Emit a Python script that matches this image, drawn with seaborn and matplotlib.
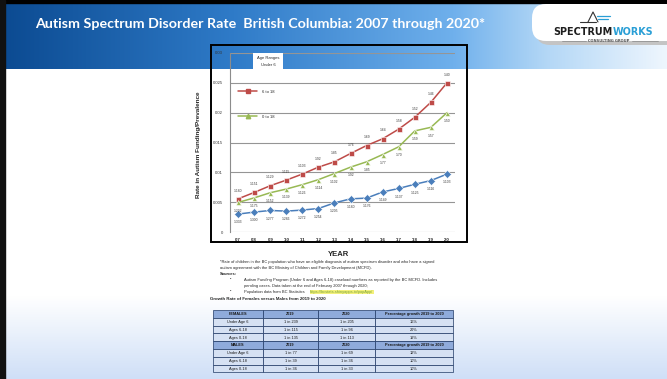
import numpy as np
import pandas as pd
import matplotlib
matplotlib.use("Agg")
import matplotlib.pyplot as plt
from matplotlib.patches import Rectangle, FancyBboxPatch
from matplotlib.colors import LinearSegmentedColormap
from matplotlib.lines import Line2D
import seaborn as sns

# ---- chart data: rates shown as "1 in N" denominators ----
years = ["'07", "'08", "'09", "'10", "'11", "'12", "'13",
         "'14", "'15", "'16", "'17", "'18", "'19", "'20"]
under_6 = [333, 300, 277, 286, 272, 254, 205, 180, 176, 149, 137, 125, 116, 103]
ages_6_18 = [180, 151, 129, 115, 103, 92, 85, 76, 69, 64, 58, 52, 46, 40]
ages_0_18 = [202, 175, 152, 139, 126, 114, 102, 92, 85, 77, 70, 59, 57, 50]
groups = ["Under 6", "6 to 18", "0 to 18"]
y_ticks = [0, 0.005, 0.01, 0.015, 0.02, 0.025, 0.03]
y_tick_labels = ["0", "0.005", "0.01", "0.015", "0.02", "0.025", "0.03"]

# ---- growth table ----
table_header_f = ["FEMALES", "2019", "2020", "Percentage growth 2019 to 2020"]
table_rows_f = [["Under Age 6", "1 in 239", "1 in 205", "16%"],
                ["Ages 6-18", "1 in 115", "1 in 96", "20%"],
                ["Ages 0-18", "1 in 135", "1 in 113", "19%"]]
table_header_m = ["MALES", "2019", "2020", "Percentage growth 2019 to 2020"]
table_rows_m = [["Under Age 6", "1 in 77", "1 in 69", "12%"],
                ["Ages 6-18", "1 in 39", "1 in 36", "10%"],
                ["Ages 0-18", "1 in 36", "1 in 33", "10%"]]

palette = {"Under 6": "#4a7ebb", "6 to 18": "#be4b48", "0 to 18": "#98b954"}
markers = {"Under 6": "D", "6 to 18": "s", "0 to 18": "^"}

records = []
for name, denoms in zip(groups, [under_6, ages_6_18, ages_0_18]):
    for yr, d in zip(years, denoms):
        records.append({"year": yr, "group": name, "rate": 1.0 / d, "label": f"1:{d}"})
df = pd.DataFrame(records)

sns.set_style("white")
plt.rcParams["font.family"] = ["Liberation Sans", "DejaVu Sans"]

W, H = 667, 379
fig = plt.figure(figsize=(W / 100, H / 100), dpi=100)


def fx(x):
    return x / W


def fy(y):
    return 1 - y / H


# ---- slide background (pixel coordinates) ----
bg = fig.add_axes([0, 0, 1, 1])
bg.set_xlim(0, W)
bg.set_ylim(H, 0)
bg.axis("off")

banner_cmap = LinearSegmentedColormap.from_list(
    "banner", [(0, "#0b4a91"), (0.35, "#2f7bc8"), (0.68, "#6fb0ec"),
               (0.82, "#b3d7f6"), (1, "#eef6fe")])
grad = np.linspace(0, 1, 256).reshape(1, -1)
bg.imshow(grad, cmap=banner_cmap, extent=(0, W, 69, 3), aspect="auto", zorder=1)

foot_cmap = LinearSegmentedColormap.from_list("foot", ["#ffffff", "#cfdff7"])
vgrad = np.linspace(0, 1, 128).reshape(-1, 1)
bg.imshow(vgrad, cmap=foot_cmap, extent=(0, W, H, 296), aspect="auto", zorder=1)

bg.add_patch(Rectangle((0, 0), W, 3, color="black", zorder=2))
bg.add_patch(Rectangle((0, 0), 5, H, color="#111111", zorder=2))

# logo panel
bg.add_patch(FancyBboxPatch((536, 9), 144, 36, boxstyle="round,pad=0,rounding_size=14",
                            facecolor="#c4c4c4", edgecolor="none", zorder=3))
bg.add_patch(FancyBboxPatch((532, 4), 148, 37, boxstyle="round,pad=0,rounding_size=14",
                            facecolor="white", edgecolor="none", zorder=4))
bg.plot([580, 596], [22, 22], color="#333333", lw=0.8, zorder=5)
bg.plot([588, 593, 598], [22, 12, 22], color="#333333", lw=0.8, zorder=5)
bg.plot([597, 610], [16, 16], color="#2a9fd6", lw=0.9, zorder=5)
bg.plot([598, 608], [19, 19], color="#2a9fd6", lw=0.9, zorder=5)
bg.text(613, 32, "SPECTRUM", color="#1e1e1e", fontsize=6.9, fontweight="bold",
        family="DejaVu Sans", ha="right", va="center", zorder=6)
bg.text(613, 32, "WORKS", color="#2a9fd6", fontsize=6.9, fontweight="bold",
        family="DejaVu Sans", ha="left", va="center", zorder=6)
bg.text(609, 40.5, "CONSULTING GROUP", color="#555555", fontsize=2.6,
        family="DejaVu Sans", fontweight="bold", ha="center", va="center", zorder=6)
bg.plot([562, 586], [40.5, 40.5], color="#888888", lw=0.5, zorder=6)
bg.plot([632, 658], [40.5, 40.5], color="#888888", lw=0.5, zorder=6)

# chart frame
bg.add_patch(Rectangle((211, 45), 256, 197, facecolor="none", edgecolor="black",
                       lw=1.4, zorder=3))

# growth table
col_edges = [213, 263, 318, 375, 453]
row_top, row_h = 310, 7.8
all_rows = [(table_header_f, True)] + [(r, False) for r in table_rows_f] + \
           [(table_header_m, True)] + [(r, False) for r in table_rows_m]
for i, (row, is_head) in enumerate(all_rows):
    y0 = row_top + i * row_h
    for j, cell in enumerate(row):
        x0, x1 = col_edges[j], col_edges[j + 1]
        bg.add_patch(Rectangle((x0, y0), x1 - x0, row_h,
                               facecolor="#8fabdb" if is_head else "#d6e1f3",
                               edgecolor="#1f3864", lw=0.5, zorder=3))
        bg.text((x0 + x1) / 2, y0 + row_h / 2 + 0.3, cell, fontsize=2.8,
                fontweight="bold" if is_head else "normal",
                color="#1a1a1a", ha="center", va="center", zorder=4)

# ---- chart axes ----
left, right, top, bottom = 230, 455, 53, 232
ax = fig.add_axes([fx(left), fy(bottom), (right - left) / W, (bottom - top) / H])
ax.set_facecolor("none")

sns.lineplot(data=df, x="year", y="rate", hue="group", style="group",
             palette=palette, markers=markers, dashes=False, sort=False,
             markersize=3.6, linewidth=1.1, markeredgewidth=0.4,
             legend=False, ax=ax, zorder=3)

offsets = {"Under 6": -6, "6 to 18": 6, "0 to 18": -6}
for _, r in df.iterrows():
    xi = years.index(r["year"])
    ax.annotate(r["label"], (xi, r["rate"]), xytext=(0, offsets[r["group"]]),
                textcoords="offset points", ha="center", va="center",
                fontsize=2.4, color="#3a3a3a", zorder=4)

ax.set_xlim(-0.5, len(years) - 0.5)
ax.set_ylim(0, 0.03)
ax.set_yticks(y_ticks)
ax.set_yticklabels(y_tick_labels, fontsize=3, color="#333333")
ax.set_xticks(range(len(years)))
ax.set_xticklabels(years, fontsize=3.2, fontweight="bold", color="#222222")
ax.tick_params(axis="y", length=2, width=0.5, color="#777777", pad=3)
ax.tick_params(axis="x", length=0, pad=4)
ax.yaxis.grid(True, color="#959595", lw=0.8)
ax.set_axisbelow(True)
for s in ["top", "right", "bottom"]:
    ax.spines[s].set_visible(False)
ax.spines["left"].set_color("#8c8c8c")
ax.spines["left"].set_linewidth(0.8)
ax.set_xlabel("")
ax.set_ylabel("")

handles = [Line2D([], [], color=palette[g], marker=markers[g], markersize=3.2, lw=1.1)
           for g in ["6 to 18", "0 to 18"]]
ax.legend(handles, ["6 to 18", "0 to 18"], loc="upper left",
          bbox_to_anchor=(0.02, 0.815), frameon=False, fontsize=3,
          handlelength=4.5, labelspacing=5.0, handletextpad=1.2)

fig.text(fx(268), fy(61.5), "Age Ranges\nUnder 6", ha="center", va="center",
         fontsize=3, linespacing=2.0,
         bbox=dict(facecolor="white", edgecolor="none", pad=2.5))

# ---- slide texts ----
fig.text(fx(35), fy(24), "Autism Spectrum Disorder Rate  British Columbia: 2007 through 2020*",
         color="white", fontsize=10.3, fontweight="bold", family="Lato",
         ha="left", va="center")
fig.text(fx(199), fy(145), "Rate in Autism Funding/Prevalence", rotation=90,
         fontsize=4.6, fontweight="bold", ha="center", va="center")
fig.text(fx(338), fy(254), "YEAR", fontsize=5.5, fontweight="bold",
         ha="center", va="center")

fs = 2.9
fig.text(fx(220), fy(262), "*Rate of children in the BC population who have an eligible diagnosis of autism "
         "spectrum disorder and who have a signed", fontsize=fs, va="center")
fig.text(fx(220), fy(268), "autism agreement with the BC Ministry of Children and Family Development (MCFD).",
         fontsize=fs, va="center")
fig.text(fx(220), fy(274), "Sources:", fontsize=fs, fontweight="bold", va="center")
fig.text(fx(230), fy(280), "\u2022", fontsize=fs, va="center")
fig.text(fx(244), fy(280), "Autism Funding Program (Under 6 and Ages 6-18) caseload numbers as reported "
         "by the BC MCFD. Includes", fontsize=fs, va="center")
fig.text(fx(244), fy(286), "pending cases. Data taken at the end of February 2007 through 2020;",
         fontsize=fs, va="center")
fig.text(fx(230), fy(292), "\u2022", fontsize=fs, va="center")
fig.text(fx(244), fy(292), "Population data from BC Statistics ", fontsize=fs, va="center")
fig.text(fx(310), fy(292), "https://bcstats.shinyapps.io/popApp/", fontsize=fs, va="center",
         color="#7aa33a", bbox=dict(facecolor="#f3f07a", edgecolor="none", pad=0.3))
fig.text(fx(210), fy(299.5), "Growth Rate of Females versus Males from 2019 to 2020",
         fontsize=3.2, fontweight="bold", va="center")

fig.savefig("out.png", dpi=100)
